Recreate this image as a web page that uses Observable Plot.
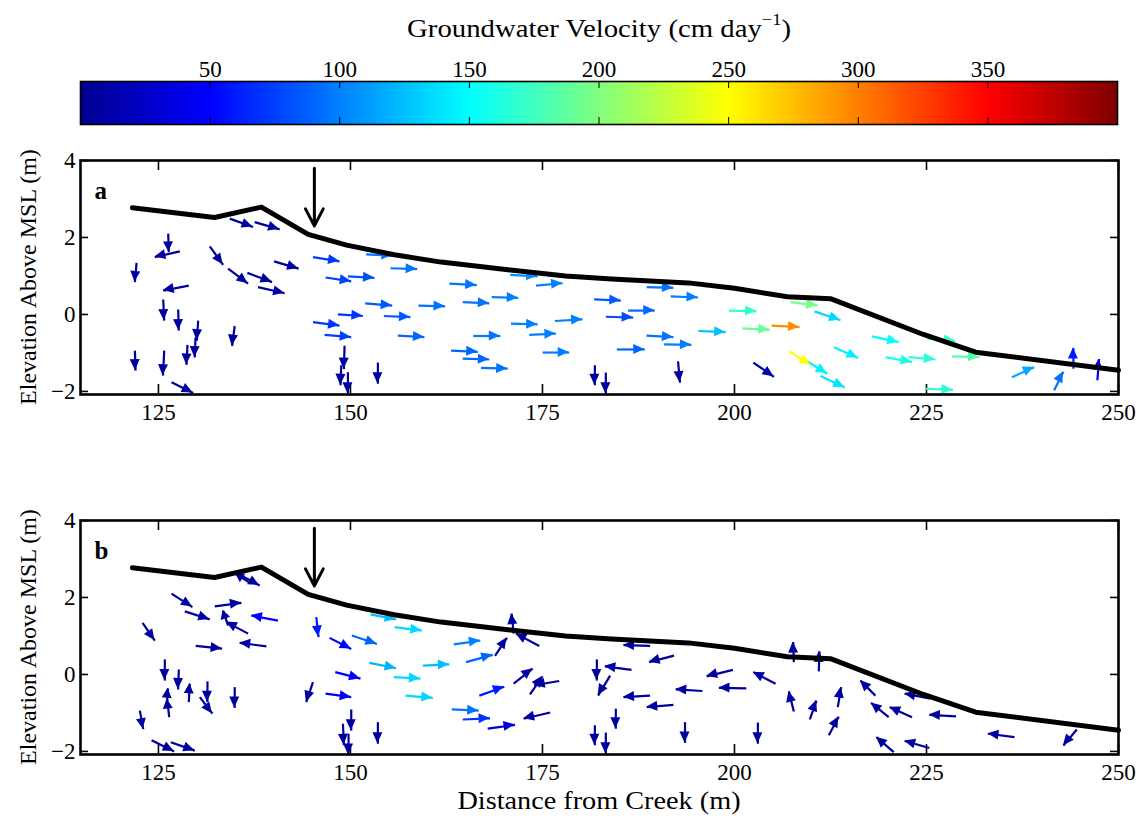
<!DOCTYPE html>
<html><head><meta charset="utf-8">
<script src="https://cdn.jsdelivr.net/npm/d3@7"></script>
<script src="https://cdn.jsdelivr.net/npm/@observablehq/plot@0.6"></script>
<style>
body{margin:0;background:#fff;}
#root{position:relative;width:1145px;height:821px;font-family:"Liberation Serif","Times New Roman",serif;color:#000;overflow:hidden;background:#fff}
.abs{position:absolute}
#title{left:80px;width:1038px;top:13px;text-align:center;font-size:25px;line-height:32px;white-space:nowrap;z-index:5;transform:scaleX(1.15)}
#title sup{font-size:16px;line-height:0;position:relative;top:-3px}
.ylab{width:320px;height:30px;line-height:30px;text-align:center;font-size:24px;transform:rotate(-90deg);white-space:nowrap;z-index:5}
#xlab{left:80px;width:1038px;top:786px;height:30px;line-height:30px;text-align:center;font-size:25px;z-index:5;transform:scaleX(1.13)}
svg{overflow:visible}
svg text{font-family:"Liberation Serif","Times New Roman",serif !important}
</style></head>
<body>
<div id="root">
  <div id="cbar" class="abs" style="left:0;top:0"></div>
  <div id="pa" class="abs" style="left:0;top:130px"></div>
  <div id="pb" class="abs" style="left:0;top:490px"></div>
  <div id="title" class="abs">Groundwater Velocity (cm day<sup>−1</sup>)</div>
  <div class="abs ylab" style="left:-132px;top:262px">Elevation Above MSL (m)</div>
  <div class="abs ylab" style="left:-132px;top:622px">Elevation Above MSL (m)</div>
  <div id="xlab" class="abs">Distance from Creek (m)</div>
</div>
<script>
// ---------- data ----------
const colorTicks = [50, 100, 150, 200, 250, 300, 350];
const colorDomain = [0, 50, 150, 250, 350, 400];
const colorRange = ["#00008f", "#0000ff", "#00ffff", "#ffff00", "#ff0000", "#800000"];
const xTicks = [125, 150, 175, 200, 225, 250];
const yTicks = [-2, 0, 2, 4];

// ground surface profile (distance, elevation)
const groundX = [121.6, 132.3, 138.4, 144.5, 149.5, 155.7, 161.8, 170.5, 178.0, 184.0, 194.0, 200.0, 206.9, 212.5, 224.6, 231.4, 250.0];
const groundY = [2.77, 2.52, 2.79, 2.08, 1.80, 1.55, 1.36, 1.16, 1.00, 0.92, 0.82, 0.68, 0.46, 0.41, -0.52, -0.98, -1.45];

// marker arrow (well location)
const markX = [145.3];
const markTop = [3.8];
const markBottom = [2.3];

// panel a vectors: tail x, tail y, u, v (m on plot), speed (cm/day)
const aX = [134.28,137.53,126.27,127.78,122.15,131.68,140.05,145.12,134.07,136.58,137.97,128.95,146.76,149.67,125.62,127.57,130.17,129.82,128.78,134.93,121.93,125.75,126.70,149.23,148.80,149.67,145.12,146.63,148.37,
  152.05,155.21,162.88,151.92,158.85,164.62,168.39,154.35,156.17,170.90,173.28,176.62,166.00,163.10,164.62,167.00,175.02,170.81,174.15,181.73,183.25,153.57,181.82,183.25,
  186.15,188.58,191.70,188.54,190.83,184.68,195.30,199.28,201.02,204.83,207.30,210.42,207.17,209.25,212.93,211.20,202.45,192.65,
  217.92,219.65,222.68,225.07,228.32,224.85,236.12,241.62,244.13,247.25];
const aY = [2.49,2.40,2.10,1.64,1.34,1.77,1.38,1.49,1.19,1.08,0.71,0.75,0.96,0.99,0.39,0.13,-0.16,-0.60,-0.79,-0.30,-0.94,-0.94,-1.76,-0.81,-1.32,-1.50,-0.20,-0.53,0.00,
  1.56,1.20,0.80,0.29,0.23,0.32,0.45,-0.04,-0.55,-0.24,-0.53,-0.17,-0.56,-0.94,-1.15,-1.39,-0.99,1.03,0.75,0.39,-0.06,-1.25,-1.32,-1.51,
  0.10,0.71,0.47,-0.55,-0.78,-0.91,-0.43,0.10,-0.36,-0.29,0.32,0.08,-0.96,-1.19,-0.85,-1.60,-1.25,-1.22,
  -0.57,-1.11,-1.11,-0.63,-1.09,-1.93,-1.63,-1.97,-1.41,-1.71];
const aU = [3.04,3.25,0.08,-3.25,-0.22,1.74,3.20,3.46,2.60,3.21,3.46,-3.33,3.34,3.46,0.13,0.08,-0.16,-0.09,-0.13,-0.34,0.09,-0.16,2.82,-0.08,-0.09,0,3.46,3.47,3.25,
  3.47,3.47,3.56,3.51,3.47,3.46,3.46,3.46,3.46,3.47,3.47,3.60,3.51,3.47,3.46,3.47,3.46,3.56,3.47,3.47,3.55,0,0,0,
  3.47,3.47,3.55,3.51,3.56,3.64,3.55,3.60,3.59,3.64,3.55,3.38,2.73,2.82,3.17,3.16,2.68,0.26,
  3.46,3.47,3.47,3.68,3.59,3.60,2.90,1.21,0,0.22];
const aV = [-0.22,-0.19,-0.48,-0.15,-0.50,-0.48,-0.19,-0.11,-0.39,-0.24,-0.16,-0.13,-0.10,-0.04,-0.55,-0.55,-0.52,-0.52,-0.52,-0.52,-0.52,-0.65,-0.28,-0.61,-0.52,-0.56,-0.09,-0.06,-0.04,
  -0.03,-0.02,-0.04,-0.06,-0.02,-0.03,-0.02,-0.03,-0.04,-0.02,0.03,0.04,0,-0.03,-0.02,-0.02,0,-0.04,0.06,-0.03,-0.02,-0.55,-0.52,-0.55,
  0,-0.02,-0.03,-0.04,-0.01,0,-0.03,-0.02,-0.04,-0.04,-0.09,-0.23,-0.35,-0.35,-0.28,-0.30,-0.37,-0.55,
  -0.15,-0.13,-0.06,-0.06,-0.02,-0.03,0.26,0.48,0.54,0.55];
const aS = [8,8,8,8,8,8,8,72,8,8,10,8,75,80,8,8,8,8,8,8,8,8,8,8,8,8,70,75,70,
  95,95,95,85,95,95,100,85,90,100,100,100,95,90,90,95,100,105,100,85,80,8,8,8,
  90,95,100,95,100,90,125,170,190,295,195,135,250,145,145,140,10,8,
  150,160,165,170,185,165,115,95,60,40];

// panel b vectors
const bX = [135.15,136.84,126.70,128.43,132.33,136.67,134.07,140.57,122.93,129.86,139.05,125.83,127.65,126.40,126.05,128.95,131.38,130.38,134.93,122.58,124.10,126.61,145.55,147.28,148.02,146.76,145.12,150.10,149.02,149.75,153.57,
  152.61,155.73,150.19,163.45,152.48,159.42,165.05,155.65,157.16,163.19,164.62,167.87,166.78,171.25,168.82,171.25,174.58,173.37,177.18,176.01,182.08,183.81,181.82,183.25,
  189.01,192.13,186.59,189.01,192.05,195.82,199.80,201.54,205.35,207.73,210.98,207.73,209.81,213.45,212.28,184.55,193.56,203.05,
  218.35,225.50,220.08,223.12,228.84,220.73,225.37,236.46,244.57];
const bY = [2.64,2.39,2.10,1.64,1.77,1.06,1.27,1.40,1.34,0.74,0.73,0.39,0.13,-1.11,-0.83,-0.72,-0.18,-0.59,-0.33,-0.94,-1.71,-1.76,1.49,0.95,0.06,-0.50,-0.20,-0.91,-1.28,-1.54,-1.24,
  1.56,1.23,1.01,0.78,0.30,0.23,0.32,-0.07,-0.55,-0.91,-1.17,-1.41,-0.55,-0.24,0.48,1.06,0.74,-0.52,-0.17,-0.99,0.39,-0.03,-1.32,-1.51,
  0.74,0.49,0.12,-0.55,-0.79,-0.43,0.12,-0.36,-0.24,0.32,0.08,-0.96,-1.17,-0.85,-1.58,-0.89,-1.24,-1.25,
  -0.55,-0.63,-1.11,-1.11,-1.09,-2.02,-1.91,-1.63,-1.43];
const bU = [3.03,-1.82,2.73,3.25,3.47,-2.82,-0.65,-3.47,1.60,3.43,-3.47,0,-0.08,-0.26,0.20,0.13,0,1.65,0,0.44,2.95,3.12,0.30,2.82,3.29,3.34,-0.87,0,0.13,0,0,
  3.34,3.56,3.25,3.46,3.47,3.46,3.47,3.46,3.56,3.51,3.55,3.55,3.25,2.47,1.56,-0.26,-3.03,1.65,-3.25,-3.46,0,-1.56,0,0,
  -3.46,-3.25,-3.47,-3.46,-3.47,-3.47,-3.42,-3.56,-2.90,-0.08,0.09,-0.65,0.87,0.44,1.30,0,0,0,
  -1.95,-3.34,-2.29,-2.91,-3.47,-2.25,-3.21,-3.46,-1.74];
const bV = [-0.33,0.23,-0.35,-0.21,0.09,0.30,0.39,0.13,-0.46,-0.07,0.09,-0.55,-0.52,0.47,0.47,0.48,-0.54,-0.43,-0.54,-0.48,-0.29,-0.22,-0.52,-0.29,-0.17,-0.09,-0.52,-0.55,-0.56,-0.55,-0.56,
  -0.13,-0.09,-0.22,0.10,-0.14,0.03,0.19,-0.04,-0.06,-0.03,0.03,0.10,0.23,0.39,0.47,0.52,0.32,0.47,-0.11,-0.16,-0.55,-0.52,-0.52,-0.55,
  0.02,-0.17,0.09,-0.04,-0.06,0.04,-0.17,0.01,0.30,0.52,0.52,0.52,0.49,0.52,0.48,-0.52,-0.54,-0.55,
  0.39,0.13,0.37,0.26,0.04,0.39,0.18,0.09,-0.42];
const bS = [8,8,8,8,8,8,8,50,8,8,10,8,8,8,8,8,8,8,8,8,8,8,60,50,50,45,8,8,8,8,8,
  125,135,90,100,120,125,90,135,135,95,70,30,60,10,10,10,8,8,8,8,8,8,8,8,
  8,8,8,8,8,8,8,8,8,8,8,8,8,8,8,8,8,8,
  8,8,8,8,8,8,8,8,8];

// ---------- drawing ----------
const SERIF = "'Liberation Serif', 'Times New Roman', serif";
const FONT = {fontFamily: SERIF, fontSize: "23px", color: "black", background: "transparent", overflow: "visible"};
const colorScale = {type: "linear", domain: colorDomain, range: colorRange};

function quiver(data) {
  return Plot.link(data, {
    x1: "x", y1: "y", x2: d => d.x + d.u, y2: d => d.y + d.v,
    stroke: "speed", strokeWidth: 2.2, strokeLinecap: "butt", clip: "frame",
    render(index, scales, values, dimensions, context, next) {
      const g = next(index, scales, values, dimensions, context);
      const {x1, y1, x2, y2, stroke} = values;
      const ns = "http://www.w3.org/2000/svg";
      for (const i of index) {
        const dx = x2[i] - x1[i], dy = y2[i] - y1[i];
        const len = Math.hypot(dx, dy) || 1;
        const ux = dx / len, uy = dy / len;
        const L = Math.min(11, len * 0.55), W = 5;
        const bx = x2[i] - ux * L, by = y2[i] - uy * L;
        const p = document.createElementNS(ns, "polygon");
        p.setAttribute("points", `${x2[i]},${y2[i]} ${bx - uy * W},${by + ux * W} ${bx + uy * W},${by - ux * W}`);
        p.setAttribute("fill", stroke[i]);
        p.setAttribute("stroke", "none");
        g.appendChild(p);
      }
      return g;
    }
  });
}

function panel(label, X, Y, U, V, S) {
  const W = 1145, H = 320, mL = 80, mR = 27, mT = 30, mB = 56;
  const iw = W - mL - mR, ih = H - mT - mB;
  const arrows = X.map((x, i) => ({x, y: Y[i], u: U[i], v: V[i], speed: S[i]}));
  const ground = groundX.map((x, i) => ({x, y: groundY[i]}));
  const mark = markX.map((x, i) => ({x, y1: markTop[i], y2: markBottom[i]}));
  return Plot.plot({
    width: W, height: H, marginLeft: mL, marginRight: mR, marginTop: mT, marginBottom: mB,
    x: {domain: [114.85, 250]},
    y: {domain: [-2.08, 4]},
    color: colorScale,
    style: FONT,
    marks: [
      Plot.axisX(xTicks, {tickSize: 0, tickPadding: 9, label: null, fontSize: 23, fontFamily: SERIF}),
      Plot.axisY(yTicks, {tickSize: 0, tickPadding: 5, label: null, fontSize: 23, fontFamily: SERIF}),
      Plot.ruleX(xTicks, {insetTop: ih - 10, stroke: "black", strokeWidth: 1.6}),
      Plot.ruleX(xTicks, {insetBottom: ih - 10, stroke: "black", strokeWidth: 1.6}),
      Plot.ruleY(yTicks, {insetRight: iw - 8, stroke: "black", strokeWidth: 1.6}),
      Plot.ruleY(yTicks, {insetLeft: iw - 8, stroke: "black", strokeWidth: 1.6}),
      quiver(arrows),
      Plot.line(ground, {x: "x", y: "y", stroke: "black", strokeWidth: 5}),
      Plot.arrow(mark, {x1: "x", x2: "x", y1: "y1", y2: "y2", stroke: "black", strokeWidth: 3, headLength: 12, headAngle: 55}),
      Plot.text([label], {frameAnchor: "top-left", dx: 14, dy: 30, lineAnchor: "middle", fontWeight: "bold", fontSize: 25, fontFamily: SERIF}),
      Plot.frame({stroke: "black", strokeWidth: 2.6})
    ]
  });
}

function colorbar() {
  const steps = d3.range(0, 400, 1);
  return Plot.plot({
    width: 1145, height: 130, marginLeft: 80, marginRight: 28, marginTop: 81, marginBottom: 6,
    x: {domain: [0, 400]},
    y: {domain: [0, 1], axis: null},
    color: colorScale,
    style: FONT,
    marks: [
      Plot.rect(steps, {x1: d => d, x2: d => d + 1.4, y1: 0, y2: 1, fill: d => d + 0.5, shapeRendering: "crispEdges"}),
      Plot.ruleX(colorTicks, {insetBottom: 36, stroke: "black", strokeWidth: 1}),
      Plot.ruleX(colorTicks, {insetTop: 36, stroke: "black", strokeWidth: 1}),
      Plot.axisX(colorTicks, {anchor: "top", tickSize: 0, tickPadding: 5, label: null, fontSize: 23, fontFamily: SERIF}),
      Plot.frame({stroke: "black", strokeWidth: 1.6})
    ]
  });
}

document.getElementById("cbar").append(colorbar());
document.getElementById("pa").append(panel("a", aX, aY, aU, aV, aS));
document.getElementById("pb").append(panel("b", bX, bY, bU, bV, bS));
</script>
</body></html>
